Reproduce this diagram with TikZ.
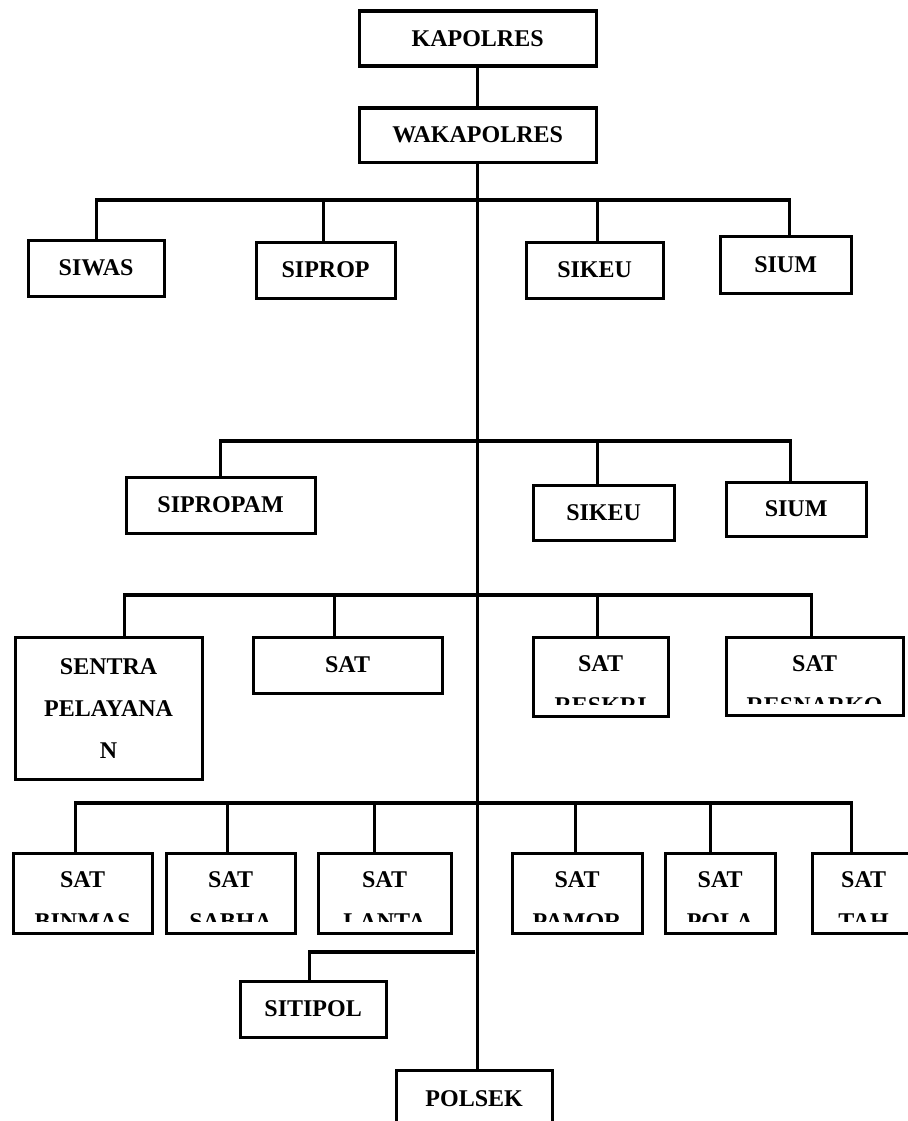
\documentclass[tikz,border=0pt]{standalone}
\usepackage{fontspec}
\setmainfont{Liberation Serif}
\usepackage{tikz}

\newcommand{\boxfont}{\fontsize{24}{42}\selectfont\bfseries}

\begin{document}
\begin{tikzpicture}[x = 1pt, y = -1pt,
    unit/.style = {draw, line width = 3.2pt, inner sep = 0pt, anchor = north west, font = \boxfont, align = center},
    cutunit/.style = {unit, path picture = {
        \clip (path picture bounding box.north west) rectangle ([yshift = 12pt]path picture bounding box.south east);
        \node [draw = none, anchor = north, inner sep = 0pt, minimum width = 0pt, minimum height = 0pt,
               font = \boxfont, align = center]
            at ([yshift = -17pt]path picture bounding box.north) {#1};
    }},
    link/.style = {line width = 3.2pt}]
    \useasboundingbox (0,0) rectangle (907,1121);

    % top
    \node [unit, minimum width = 237pt, minimum height = 55pt] (kapolres) at (357.5,9.5) {KAPOLRES};
    \node [unit, minimum width = 237pt, minimum height = 54pt] (wakapolres) at (357.5,106.5) {WAKAPOLRES};

    % first row
    \node [unit, minimum width = 136pt, minimum height = 56pt] (siwas) at (26.5,238.5) {SIWAS};
    \node [unit, minimum width = 139pt, minimum height = 56pt] (siprop) at (254.5,240.5) {SIPROP};
    \node [unit, minimum width = 137pt, minimum height = 56pt] (sikeu) at (524.5,240.5) {SIKEU};
    \node [unit, minimum width = 131pt, minimum height = 57pt] (sium) at (718.5,234.5) {SIUM};

    % second row
    \node [unit, minimum width = 189pt, minimum height = 56pt] (sipropam) at (124.5,475.5) {SIPROPAM};
    \node [unit, minimum width = 141pt, minimum height = 55pt] (sikeub) at (531.5,483.5) {SIKEU};
    \node [unit, minimum width = 140pt, minimum height = 54pt] (siumb) at (724.5,480.5) {SIUM};

    % third row
    \node [unit, minimum width = 187pt, minimum height = 142pt] (sentra) at (13.5,635.5) {SENTRA\\PELAYANA\\N};
    \node [unit, minimum width = 189pt, minimum height = 56pt] (sat) at (251.5,635.5) {SAT};
    \node [cutunit = {SAT\\RESKRI}, minimum width = 135pt, minimum height = 79pt] (reskri) at (531.5,635.5) {};
    \node [cutunit = {SAT\\RESNARKO}, minimum width = 177pt, minimum height = 78pt] (resnarko) at (724.5,635.5) {};

    % fourth row
    \node [cutunit = {SAT\\BINMAS}, minimum width = 139pt, minimum height = 80pt] (binmas) at (11.5,851.5) {};
    \node [cutunit = {SAT\\SABHA}, minimum width = 129pt, minimum height = 80pt] (sabha) at (164.5,851.5) {};
    \node [cutunit = {SAT\\LANTA}, minimum width = 133pt, minimum height = 80pt] (lanta) at (316.5,851.5) {};
    \node [cutunit = {SAT\\PAMOR}, minimum width = 130pt, minimum height = 80pt] (pamor) at (510.5,851.5) {};
    \node [cutunit = {SAT\\POLA}, minimum width = 110pt, minimum height = 80pt] (pola) at (663.5,851.5) {};
    \node [cutunit = {SAT\\TAH}, minimum width = 103pt, minimum height = 80pt] (tah) at (810.5,851.5) {};

    % bottom
    \node [unit, minimum width = 146pt, minimum height = 56pt] (sitipol) at (238.5,979.5) {SITIPOL};
    \node [unit, minimum width = 156pt, minimum height = 57pt] (polsek) at (394.5,1068.5) {POLSEK};

    \coordinate (lv1) at (475,200);
    \coordinate (lv2) at (475,441);
    \coordinate (lv3) at (475,595);
    \coordinate (lv4) at (475,803);
    \coordinate (lv5) at (475,952);

    % trunk
    \draw [link] (kapolres) -- (wakapolres);
    \draw [link] (wakapolres.south) -- (wakapolres.south |- polsek.north);

    % branches
    \draw [link] (siwas.north) |- (lv1) -| ([xshift = 4pt]sium.north);
    \foreach \n/\dx in {siprop/-2, sikeu/3}
        \draw [link] ([xshift = \dx pt]\n.north) -- ([xshift = \dx pt]\n.north |- lv1);

    \draw [link] (sipropam.north) |- (lv2) -| ([xshift = -6pt]siumb.north);
    \draw [link] ([xshift = -6pt]sikeub.north) -- ([xshift = -6pt]sikeub.north |- lv2);

    \draw [link] ([xshift = 16pt]sentra.north) |- (lv3) -| ([xshift = -3pt]resnarko.north);
    \foreach \n/\dx in {sat/-13, reskri/-3}
        \draw [link] ([xshift = \dx pt]\n.north) -- ([xshift = \dx pt]\n.north |- lv3);

    \draw [link] ([xshift = -7pt]binmas.north) |- (lv4) -| ([xshift = -12pt]tah.north);
    \foreach \n/\dx in {sabha/-3, lanta/-10, pamor/-2, pola/-10}
        \draw [link] ([xshift = \dx pt]\n.north) -- ([xshift = \dx pt]\n.north |- lv4);

    \draw [link] ([xshift = -4pt]sitipol.north) |- (lv5);
\end{tikzpicture}
\end{document}
